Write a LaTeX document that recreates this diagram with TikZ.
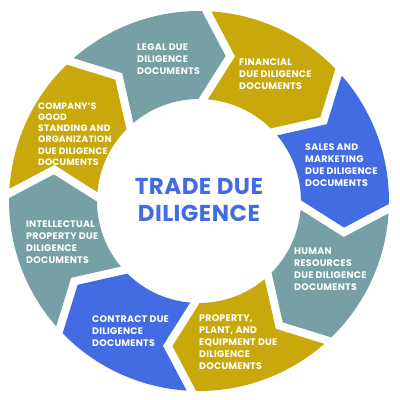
\documentclass[tikz,border=0pt]{standalone}
\usepackage{fontspec}
\setmainfont{Poppins}
\definecolor{segteal}{RGB}{118,160,165}
\definecolor{seggold}{RGB}{200,168,10}
\definecolor{segblue}{RGB}{67,108,226}
\newcommand{\ringseg}[3]{%
  \fill[#1] (#2-1.43:190) arc[start angle=#2-1.43, end angle=#3+1.43, radius=190pt]
    -- ([shift={(#3-90:20.75)}]#3:146)
    -- (#3+2.67:102) arc[start angle=#3+2.67, end angle=#2-2.67, radius=102pt]
    -- ([shift={(#2-90:30.25)}]#2:146) -- cycle;}
\tikzset{
  seglabel/.style={anchor=west, inner sep=0pt, align=left, text=white,
    font=\bfseries\fontsize{9.5}{12}\selectfont\addfontfeatures{LetterSpace=2.5}},
  titlelabel/.style={align=center, inner sep=0pt, text=segblue,
    font=\bfseries\fontsize{23}{26.5}\selectfont\addfontfeatures{LetterSpace=2}}
}
\begin{document}
\begin{tikzpicture}[x=1pt,y=1pt]
\useasboundingbox (-199,-199) rectangle (201,201);
\ringseg{segteal}{132.7}{87.7}
\ringseg{seggold}{87.7}{42.7}
\ringseg{segblue}{42.7}{-2.3}
\ringseg{segteal}{-2.3}{-47.3}
\ringseg{seggold}{-47.3}{-92.3}
\ringseg{segblue}{-92.3}{-137.3}
\ringseg{segteal}{-137.3}{-182.3}
\ringseg{seggold}{177.7}{132.7}
\node[seglabel] (legal) at (-62,142) {LEGAL DUE\\DILIGENCE\\DOCUMENTS};
\node[seglabel] (financial) at (40,126.5) {FINANCIAL\\DUE DILIGENCE\\DOCUMENTS};
\node[seglabel] (sales) at (106,36) {SALES AND\\MARKETING\\DUE DILIGENCE\\DOCUMENTS};
\node[seglabel] (hr) at (95,-68) {HUMAN\\RESOURCES\\DUE DILIGENCE\\DOCUMENTS};
\node[seglabel] (property) at (0,-141) {PROPERTY,\\PLANT, AND\\EQUIPMENT DUE\\DILIGENCE\\DOCUMENTS};
\node[seglabel] (contract) at (-107,-129.7) {CONTRACT DUE\\DILIGENCE\\DOCUMENTS};
\node[seglabel] (intellectual) at (-173,-41) {INTELLECTUAL\\PROPERTY DUE\\DILIGENCE\\DOCUMENTS};
\node[seglabel, font=\bfseries\fontsize{9.2}{11.2}\selectfont\addfontfeatures{LetterSpace=2}] (company) at (-161,67) {COMPANY'S\\GOOD\\STANDING AND\\ORGANIZATION\\DUE DILIGENCE\\DOCUMENTS};
\node[titlelabel] (title) at (0,1.25) {TRADE DUE\\DILIGENCE};
\end{tikzpicture}
\end{document}
